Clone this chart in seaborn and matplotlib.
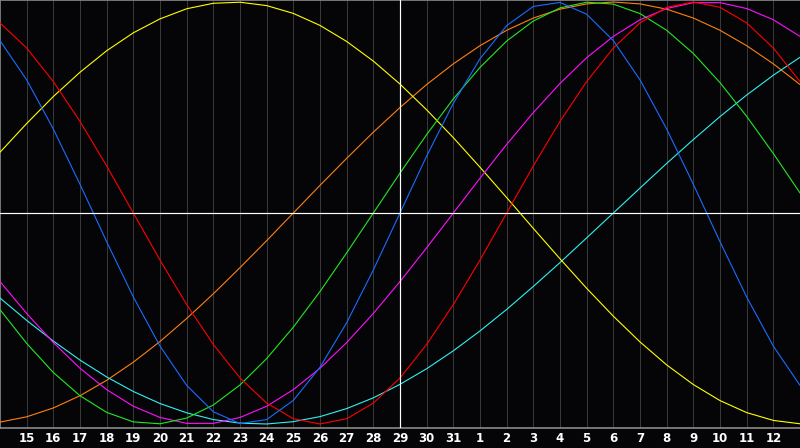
import matplotlib
matplotlib.use("Agg")
import matplotlib.pyplot as plt
import seaborn as sns
import pandas as pd

# day labels along the x axis (index 0 = 14th, index 30 = 13th of next month)
day_labels = ["14", "15", "16", "17", "18", "19", "20", "21", "22", "23", "24", "25", "26",
              "27", "28", "29", "30", "31", "1", "2", "3", "4", "5", "6", "7", "8",
              "9", "10", "11", "12", "13"]
today_index = 15

# cycle values (one value per day)
physical = [0.817, 0.631, 0.398, 0.136, -0.136, -0.398, -0.631, -0.817, -0.942, -0.998,
            -0.979, -0.888, -0.731, -0.520, -0.270, 0.0, 0.270, 0.520, 0.731, 0.888,
            0.979, 0.998, 0.942, 0.817, 0.631, 0.398, 0.136, -0.136, -0.398, -0.631, -0.817]
emotional = [0.901, 0.782, 0.623, 0.434, 0.223, 0.0, -0.223, -0.434, -0.623, -0.782,
             -0.901, -0.975, -1.0, -0.975, -0.901, -0.782, -0.623, -0.434, -0.223, 0.0,
             0.223, 0.434, 0.623, 0.782, 0.901, 0.975, 1.0, 0.975, 0.901, 0.782, 0.623]
intellectual = [-0.458, -0.618, -0.756, -0.866, -0.945, -0.990, -0.999, -0.972, -0.910, -0.815,
                -0.690, -0.541, -0.372, -0.189, 0.0, 0.189, 0.372, 0.541, 0.690, 0.815,
                0.910, 0.972, 0.999, 0.990, 0.945, 0.866, 0.756, 0.618, 0.458, 0.282, 0.095]
intuitive = [-0.325, -0.476, -0.614, -0.736, -0.837, -0.916, -0.969, -0.997, -0.997, -0.969,
             -0.916, -0.837, -0.736, -0.614, -0.476, -0.325, -0.165, 0.0, 0.165, 0.325,
             0.476, 0.614, 0.736, 0.837, 0.916, 0.969, 0.997, 0.997, 0.969, 0.916, 0.837]
aesthetic = [0.288, 0.424, 0.552, 0.667, 0.769, 0.854, 0.920, 0.968, 0.994, 0.999,
             0.983, 0.946, 0.889, 0.813, 0.720, 0.611, 0.489, 0.357, 0.217, 0.073,
             -0.073, -0.217, -0.357, -0.489, -0.611, -0.720, -0.813, -0.889, -0.946, -0.983, -0.999]
awareness = [-0.991, -0.966, -0.924, -0.866, -0.793, -0.707, -0.609, -0.500, -0.383, -0.259,
             -0.131, 0.0, 0.131, 0.259, 0.383, 0.500, 0.609, 0.707, 0.793, 0.866,
             0.924, 0.966, 0.991, 1.0, 0.991, 0.966, 0.924, 0.866, 0.793, 0.707, 0.609]
spiritual = [-0.403, -0.509, -0.607, -0.697, -0.777, -0.846, -0.903, -0.947, -0.979, -0.996,
             -1.0, -0.989, -0.965, -0.927, -0.876, -0.812, -0.738, -0.653, -0.559, -0.457,
             -0.348, -0.235, -0.118, 0.0, 0.118, 0.235, 0.348, 0.457, 0.559, 0.653, 0.738]

series = {
    "Awareness": awareness,
    "Spiritual": spiritual,
    "Aesthetic": aesthetic,
    "Intuitive": intuitive,
    "Intellectual": intellectual,
    "Emotional": emotional,
    "Physical": physical,
}
colors = {
    "Physical": "#1a6cff",
    "Emotional": "#ff0000",
    "Intellectual": "#22e822",
    "Intuitive": "#ff10ff",
    "Aesthetic": "#ffff00",
    "Awareness": "#ff8010",
    "Spiritual": "#30f0f0",
}

rows = []
for name, vals in series.items():
    for i, v in enumerate(vals):
        rows.append({"day": i, "value": v, "cycle": name})
df = pd.DataFrame(rows)

sns.set_style("dark")
plt.rcParams["font.family"] = ["DejaVu Sans"]

bg = "#050508"
fig = plt.figure(figsize=(8.0, 4.48), dpi=100, facecolor=bg)
ax = fig.add_axes([0.0, 20 / 448, 1.0, 428 / 448])
ax.set_facecolor(bg)

# day grid
for i in range(1, len(day_labels)):
    ax.axvline(i, color="#383838", lw=0.75, zorder=1)

sns.lineplot(data=df, x="day", y="value", hue="cycle", palette=colors,
             hue_order=list(series.keys()), lw=0.8, legend=False, ax=ax,
             zorder=3, antialiased=True)

ax.axhline(0, color="white", lw=0.85, zorder=4)
ax.axvline(today_index, color="white", lw=0.85, zorder=4)

ax.set_xlim(0, len(day_labels) - 1)
ax.set_ylim(-1.019, 1.0095)
ax.set_xticks(range(1, len(day_labels) - 1))
ax.set_xticklabels(day_labels[1:-1], color="white", fontsize=8.5, fontweight="bold")
ax.set_yticks([])
ax.tick_params(axis="x", length=0, pad=3)
ax.set_xlabel("")
ax.set_ylabel("")
ax.grid(False)
for side in ["left", "top", "bottom"]:
    ax.spines[side].set_visible(True)
    ax.spines[side].set_color("#8a8a8a")
    ax.spines[side].set_linewidth(1.2)
ax.spines["right"].set_visible(False)

fig.savefig("out.png", dpi=100, facecolor=bg)
